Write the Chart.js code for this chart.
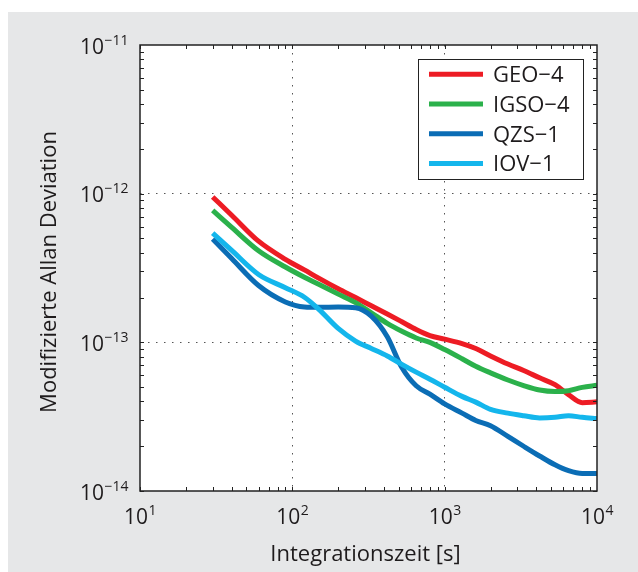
<!DOCTYPE html>
<html>
<head>
<meta charset="utf-8">
<title>Modifizierte Allan Deviation</title>
<script src="https://cdn.jsdelivr.net/npm/chart.js@4.4.0/dist/chart.umd.min.js"></script>
<style>
    html, body { margin: 0; padding: 0; background: #fff; }
    #wrap { position: relative; width: 638px; height: 572px; }
</style>
</head>
<body>
<div id="wrap"><canvas id="adev" width="638" height="572"></canvas></div>
<script>
// Integrationszeit [s]
const tau = [30, 40, 60, 90, 120, 150, 200, 260, 330, 420, 520, 650, 800,
             1000, 1300, 1600, 2000, 2600, 3300, 4200, 5300, 6500, 8000, 10000];

// Modifizierte Allan-Abweichung je Satellit
const geo4 = [9.50e-13, 7.16e-13, 4.79e-13, 3.62e-13, 3.07e-13, 2.69e-13, 2.29e-13, 2.00e-13,
              1.76e-13, 1.55e-13, 1.38e-13, 1.22e-13, 1.11e-13, 1.05e-13, 9.80e-14, 9.08e-14,
              8.10e-14, 7.14e-14, 6.46e-14, 5.77e-14, 5.19e-14, 4.45e-14, 3.93e-14, 3.98e-14];
const igso4 = [7.71e-13, 5.93e-13, 4.13e-13, 3.21e-13, 2.74e-13, 2.45e-13, 2.11e-13, 1.85e-13,
               1.58e-13, 1.34e-13, 1.19e-13, 1.07e-13, 1.00e-13, 8.95e-14, 7.76e-14, 6.90e-14,
               6.23e-14, 5.58e-14, 5.12e-14, 4.78e-14, 4.67e-14, 4.73e-14, 4.98e-14, 5.14e-14];
const qzs1 = [4.95e-13, 3.66e-13, 2.41e-13, 1.87e-13, 1.73e-13, 1.72e-13, 1.73e-13, 1.71e-13,
              1.50e-13, 1.09e-13, 6.85e-14, 5.10e-14, 4.48e-14, 3.85e-14, 3.34e-14, 2.98e-14,
              2.75e-14, 2.33e-14, 2.00e-14, 1.72e-14, 1.50e-14, 1.37e-14, 1.31e-14, 1.31e-14];
const iov1 = [5.43e-13, 4.15e-13, 2.86e-13, 2.33e-13, 2.01e-13, 1.66e-13, 1.24e-13, 1.02e-13,
              9.10e-14, 8.10e-14, 7.14e-14, 6.30e-14, 5.65e-14, 4.99e-14, 4.33e-14, 3.96e-14,
              3.54e-14, 3.34e-14, 3.21e-14, 3.10e-14, 3.13e-14, 3.21e-14, 3.13e-14, 3.07e-14];

const seriesLabels = ['GEO\u22124', 'IGSO\u22124', 'QZS\u22121', 'IOV\u22121'];
const seriesValues = [geo4, igso4, qzs1, iov1];
const seriesColors = ['#ed1c24', '#2bb14b', '#0b6db5', '#14b6ec'];

// Achsenbeschriftung (Dekaden)
const xTicks = [10, 100, 1000, 10000];
const yTicks = [1e-14, 1e-13, 1e-12, 1e-11];

const xTitle = 'Integrationszeit [s]';
const yTitle = 'Modifizierte Allan Deviation';

const FONT = '"Open Sans", sans-serif';
const TEXT_COLOR = '#1e1b1c';

// Potenzschreibweise 10^n zeichnen
function drawPower(ctx, value, x, y, align) {
    const exp = Math.round(Math.log10(value));
    const base = '10';
    const sup = exp < 0 ? '\u2212' + (-exp) : String(exp);
    ctx.font = '21px ' + FONT;
    const wb = ctx.measureText(base).width;
    ctx.font = '14px ' + FONT;
    const ws = ctx.measureText(sup).width;
    const left = align === 'center' ? x - (wb + ws) / 2 : x - (wb + ws);
    ctx.textAlign = 'left';
    ctx.textBaseline = 'alphabetic';
    ctx.font = '21px ' + FONT;
    ctx.fillText(base, left, y);
    ctx.font = '14px ' + FONT;
    ctx.fillText(sup, left + wb + 0.5, y - 9);
}

const matlabFrame = {
    id: 'matlabFrame',
    beforeDraw(chart) {
        const { ctx, chartArea: a } = chart;
        ctx.save();
        ctx.fillStyle = '#e6e7e8';
        ctx.fillRect(8, 12, chart.width - 8, chart.height - 12);
        ctx.fillStyle = '#ffffff';
        ctx.fillRect(a.left, a.top, a.right - a.left, a.bottom - a.top);
        ctx.restore();
    },
    afterDraw(chart) {
        const { ctx, chartArea: a } = chart;
        const xs = chart.scales.x;
        const ys = chart.scales.y;
        ctx.save();

        // Kleine Teilstriche auf allen vier Seiten
        ctx.strokeStyle = '#222';
        ctx.lineWidth = 1;
        const tl = 4;
        ctx.beginPath();
        for (let k = 1; k < 4; k++) {
            for (let m = 1; m <= 9; m++) {
                const px = Math.round(xs.getPixelForValue(m * Math.pow(10, k))) + 0.5;
                ctx.moveTo(px, a.bottom); ctx.lineTo(px, a.bottom - tl);
                ctx.moveTo(px, a.top); ctx.lineTo(px, a.top + tl);
            }
        }
        for (let k = -14; k < -11; k++) {
            for (let m = 1; m <= 9; m++) {
                const py = Math.round(ys.getPixelForValue(m * Math.pow(10, k))) + 0.5;
                ctx.moveTo(a.left, py); ctx.lineTo(a.left + tl, py);
                ctx.moveTo(a.right, py); ctx.lineTo(a.right - tl, py);
            }
        }
        ctx.stroke();

        // Rahmen
        ctx.lineWidth = 1.5;
        ctx.strokeRect(a.left, a.top, a.right - a.left, a.bottom - a.top);

        // Achsenwerte
        ctx.fillStyle = TEXT_COLOR;
        xTicks.forEach(v => drawPower(ctx, v, xs.getPixelForValue(v), a.bottom + 33, 'center'));
        yTicks.forEach(v => drawPower(ctx, v, a.left - 12, ys.getPixelForValue(v) + 8.6, 'right'));

        // Achsentitel
        ctx.font = '22px ' + FONT;
        ctx.textAlign = 'center';
        ctx.textBaseline = 'alphabetic';
        ctx.fillText(xTitle, (a.left + a.right) / 2 - 3, 561);
        ctx.save();
        ctx.translate(56, (a.top + a.bottom) / 2 + 4);
        ctx.rotate(-Math.PI / 2);
        ctx.fillText(yTitle, 0, 0);
        ctx.restore();

        // Legende
        const lx = 418.5, ly = 59.5, lw = 165, lh = 120;
        ctx.fillStyle = '#fff';
        ctx.fillRect(lx, ly, lw, lh);
        ctx.strokeStyle = '#222';
        ctx.lineWidth = 1;
        ctx.strokeRect(lx, ly, lw, lh);
        chart.data.datasets.forEach((ds, i) => {
            const yy = 74.3 + i * 29.7;
            ctx.strokeStyle = ds.borderColor;
            ctx.lineWidth = 5;
            ctx.beginPath();
            ctx.moveTo(429, yy);
            ctx.lineTo(483, yy);
            ctx.stroke();
            ctx.fillStyle = TEXT_COLOR;
            ctx.font = '22px ' + FONT;
            ctx.textAlign = 'left';
            ctx.fillText(ds.label, 493, yy + 8);
        });
        ctx.restore();
    }
};

const datasets = seriesValues.map((vals, i) => ({
    label: seriesLabels[i],
    data: tau.map((t, j) => ({ x: t, y: vals[j] })),
    borderColor: seriesColors[i],
    backgroundColor: seriesColors[i],
    borderWidth: 5,
    pointRadius: 0,
    cubicInterpolationMode: 'monotone',
    fill: false,
    order: seriesValues.length - i
}));

new Chart(document.getElementById('adev'), {
    type: 'line',
    data: { datasets },
    options: {
        responsive: false,
        animation: false,
        layout: { padding: { left: 140, top: 45, right: 41, bottom: 81 } },
        plugins: {
            legend: { display: false },
            tooltip: { enabled: false }
        },
        scales: {
            x: {
                type: 'logarithmic',
                min: 10,
                max: 10000,
                afterBuildTicks: s => { s.ticks = xTicks.slice(1, -1).map(v => ({ value: v })); },
                ticks: { display: false },
                grid: { color: '#555', lineWidth: 1, drawTicks: false },
                border: { display: false, dash: [1.5, 6.5] }
            },
            y: {
                type: 'logarithmic',
                min: 1e-14,
                max: 1e-11,
                afterBuildTicks: s => { s.ticks = yTicks.slice(1, -1).map(v => ({ value: v })); },
                ticks: { display: false },
                grid: { color: '#555', lineWidth: 1, drawTicks: false },
                border: { display: false, dash: [1.5, 6.5] }
            }
        }
    },
    plugins: [matlabFrame]
});
</script>
</body>
</html>
